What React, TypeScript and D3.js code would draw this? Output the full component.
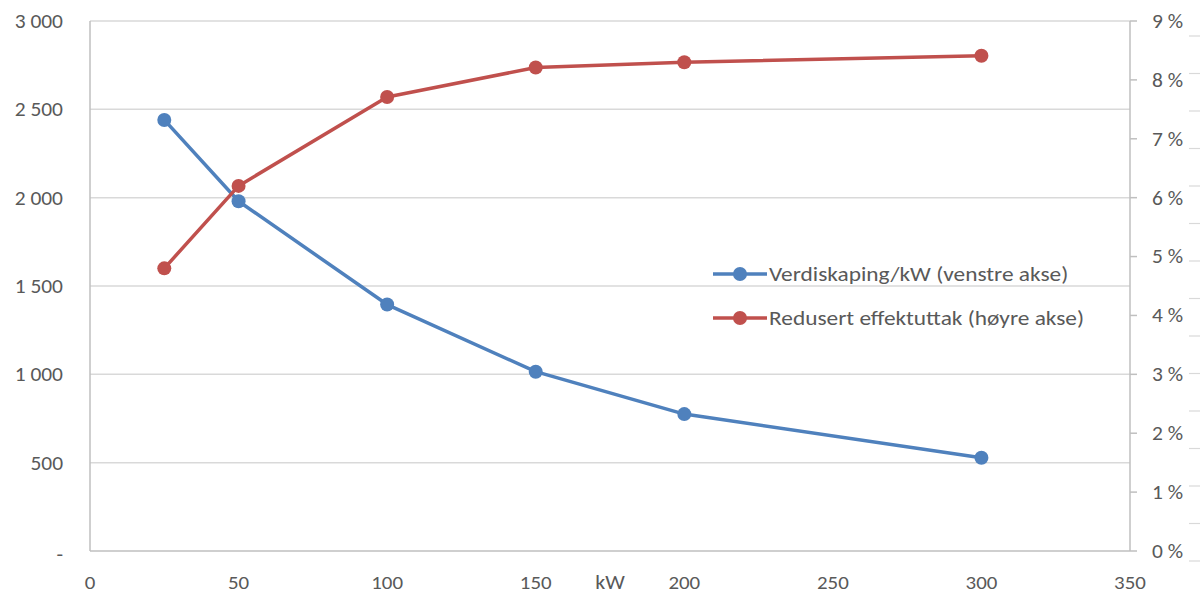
import React from "react";
import * as d3 from "d3";

// Installed capacity in kW
const capacities = [25, 50, 100, 150, 200, 300];
// Value creation per kW (left axis, NOK)
const valuePerKw = [2440, 1980, 1395, 1015, 775, 528];
// Reduced power draw (right axis, %)
const reducedDraw = [4.8, 6.2, 7.71, 8.21, 8.3, 8.41];

const xTicks = [0, 50, 100, 150, 200, 250, 300, 350];
const leftTicks = [0, 500, 1000, 1500, 2000, 2500, 3000];
const rightTicks = [0, 1, 2, 3, 4, 5, 6, 7, 8, 9];
const edgeTicks = d3.range(0, 15);

const seriesNames = ["Verdiskaping/kW (venstre akse)", "Redusert effektuttak (høyre akse)"];
const blue = "#4F81BD";
const red = "#C0504D";

const W = 1203;
const H = 594;
const FONT = "Carlito, Lato, 'Liberation Sans', sans-serif";
const TEXT = "#595959";

const fmtLeft = (v: number) => (v === 0 ? "-" : d3.format(",")(v).replace(/,/g, "\u00a0"));

function Label(props: {
  x: number;
  y: number;
  anchor?: "start" | "middle" | "end";
  size?: number;
  sx?: number;
  children: React.ReactNode;
}) {
  const { x, y, anchor = "start", size = 19.5, sx = 1.1, children } = props;
  return (
    <text
      transform={`translate(${x},${y}) scale(${sx},1)`}
      dy="0.35em"
      textAnchor={anchor}
      fontSize={size}
      fill={TEXT}
    >
      {children}
    </text>
  );
}

export default function App() {
  const x = d3.scaleLinear().domain([0, 350]).range([90, 1130]);
  const yL = d3.scaleLinear().domain([0, 3000]).range([551, 21]);
  const yR = d3.scaleLinear().domain([0, 9]).range([551, 21]);
  const yEdge = d3.scaleLinear().domain([0, 14]).range([561, 36]);

  const blueLine = d3
    .line<number>()
    .x((_, i) => x(capacities[i]))
    .y((d) => yL(d));
  const redLine = d3
    .line<number>()
    .x((_, i) => x(capacities[i]))
    .y((d) => yR(d));

  const legend = [
    { name: seriesNames[0], color: blue, y: 274 },
    { name: seriesNames[1], color: red, y: 318 },
  ];

  return (
    <svg
      width={W}
      height={H}
      style={{ position: "absolute", left: 0, top: 0, background: "#fff" }}
      fontFamily={FONT}
    >
      {/* horizontal gridlines */}
      {leftTicks.slice(1).map((t) => (
        <line key={t} x1={90} x2={1130} y1={yL(t)} y2={yL(t)} stroke="#D9D9D9" strokeWidth={1.5} />
      ))}
      {/* axes */}
      <line x1={90} x2={1130} y1={551} y2={551} stroke="#BFBFBF" strokeWidth={1.5} />
      <line x1={90} x2={90} y1={21} y2={551} stroke="#BFBFBF" strokeWidth={1.5} />
      <line x1={1130} x2={1130} y1={21} y2={551} stroke="#BFBFBF" strokeWidth={1.5} />
      {rightTicks.map((t) => (
        <line key={t} x1={1130} x2={1137} y1={yR(t)} y2={yR(t)} stroke="#BFBFBF" strokeWidth={1.5} />
      ))}
      {edgeTicks.map((t) => (
        <line key={t} x1={1189} x2={1200} y1={yEdge(t)} y2={yEdge(t)} stroke="#D9D9D9" strokeWidth={1.2} />
      ))}

      {/* left tick labels */}
      {leftTicks.map((t) => (
        <Label key={t} x={63} y={yL(t) + (t === 0 ? 3 : 0)} anchor="end">
          {fmtLeft(t)}
        </Label>
      ))}
      {/* right tick labels */}
      {rightTicks.map((t) => (
        <Label key={t} x={1152} y={yR(t)}>
          {`${t}\u00a0%`}
        </Label>
      ))}
      {/* x tick labels */}
      {xTicks.map((t) => (
        <Label key={t} x={x(t)} y={582} anchor="middle" size={19}>
          {t}
        </Label>
      ))}
      <Label x={610} y={582} anchor="middle" size={20}>
        kW
      </Label>

      {/* series */}
      <path d={blueLine(valuePerKw) ?? ""} fill="none" stroke={blue} strokeWidth={3.5} strokeLinejoin="round" />
      {valuePerKw.map((v, i) => (
        <circle key={i} cx={x(capacities[i])} cy={yL(v)} r={7} fill={blue} />
      ))}
      <path d={redLine(reducedDraw) ?? ""} fill="none" stroke={red} strokeWidth={3.5} strokeLinejoin="round" />
      {reducedDraw.map((v, i) => (
        <circle key={i} cx={x(capacities[i])} cy={yR(v)} r={7} fill={red} />
      ))}

      {/* legend */}
      {legend.map((l) => (
        <g key={l.name}>
          <line x1={713} x2={767} y1={l.y} y2={l.y} stroke={l.color} strokeWidth={3.5} />
          <circle cx={740} cy={l.y} r={7} fill={l.color} />
          <Label x={769} y={l.y} size={20.5} sx={1.14}>
            {l.name}
          </Label>
        </g>
      ))}
    </svg>
  );
}
